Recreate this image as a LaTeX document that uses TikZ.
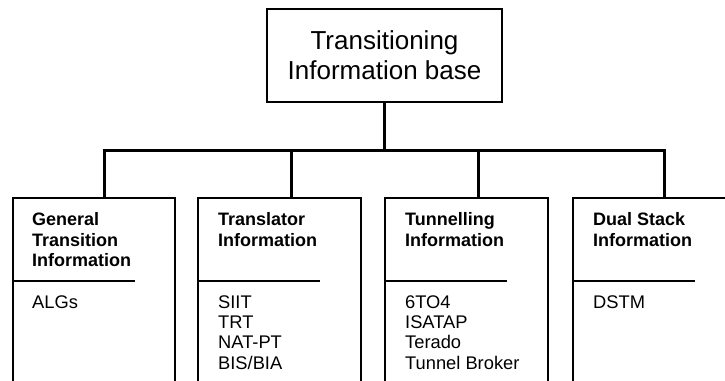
\documentclass[tikz,border=0pt]{standalone}
\usepackage{fontspec}
\setmainfont{Liberation Sans}
\usetikzlibrary{calc}
\begin{document}
\begin{tikzpicture}[x=1pt,y=-1pt,
  topbox/.style={draw,line width=2pt,minimum width=235pt,minimum height=93pt,inner sep=0pt,align=center,font=\fontsize{26}{30}\selectfont},
  childbox/.style={draw,line width=2pt,anchor=north west,minimum width=163pt,minimum height=260pt,inner sep=0pt},
  conn/.style={line width=3pt},
  divider/.style={line width=1.5pt},
  headtxt/.style={anchor=north west,inner sep=0pt,align=left,font=\fontsize{18}{20.3}\selectfont\bfseries},
  itemtxt/.style={anchor=north west,inner sep=0pt,align=left,font=\fontsize{18.3}{20.3}\selectfont}]
\useasboundingbox (0,0) rectangle (725,380);
\clip (0,0) rectangle (725,380);
\node[topbox] (top) at (384.5,55.5) {Transitioning\\Information base};
\node[childbox,minimum width=162pt] (b1) at (12,197) {};
\node[childbox] (b2) at (197,197) {};
\node[childbox] (b3) at (384,197) {};
\node[childbox,minimum width=200pt] (b4) at (572,197) {};
\coordinate (j1) at (104,150);
\coordinate (j2) at (291,150);
\coordinate (j3) at (478,150);
\coordinate (j4) at (664,150);
\draw[conn] ([xshift=-1.5pt]j1) -- ([xshift=1.5pt]j4);
\draw[conn] (top.south) -- (top.south |- j1);
\draw[conn] (j1) -- (j1 |- b1.north);
\draw[conn] (j2) -- (j2 |- b2.north);
\draw[conn] (j3) -- (j3 |- b3.north);
\draw[conn] (j4) -- (j4 |- b4.north);
\foreach \b in {b1,b2,b3,b4}{
  \draw[divider] ($(\b.north west)+(0,84)$) -- ++(123,0);
}
\node[headtxt] (h1) at (32,212.6) {General\\Transition\\Information};
\node[headtxt] (h2) at (218,212.6) {Translator\\Information};
\node[headtxt] (h3) at (405,212.6) {Tunnelling\\Information};
\node[headtxt] (h4) at (593,212.6) {Dual Stack\\Information};
\node[itemtxt] (i1) at (32,295.2) {ALGs};
\node[itemtxt] (i2) at (218,295.2) {SIIT\\TRT\\NAT-PT\\BIS/BIA};
\node[itemtxt] (i3) at (405,295.2) {6TO4\\ISATAP\\Terado\\Tunnel Broker};
\node[itemtxt] (i4) at (593,295.2) {DSTM};
\end{tikzpicture}
\end{document}
